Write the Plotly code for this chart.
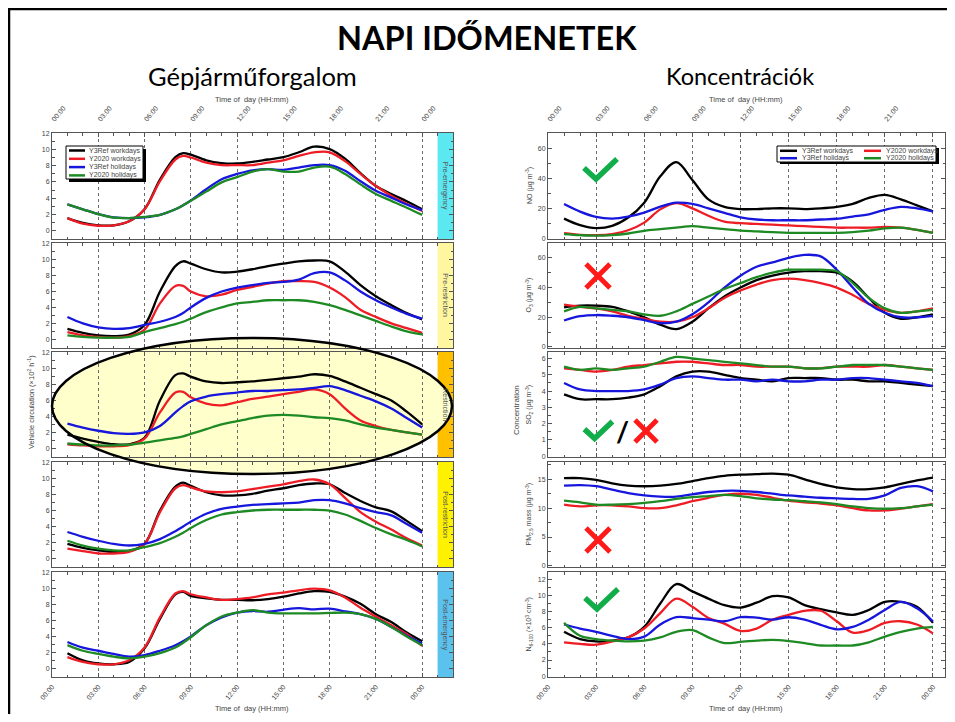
import plotly.graph_objects as go

# figure size chosen so that the figure plus the page's 8 px body margin fits a 955x722 window
PAGE_OFFSET = 8
W, H = 955 - 2 * PAGE_OFFSET, 722 - 2 * PAGE_OFFSET

# ---------------- data ----------------
SERIES = ["Y3Ref workdays", "Y2020 workdays", "Y3Ref holidays", "Y2020 holidays"]
SERIES_COLORS = ["#000000", "#EE1C25", "#1616DC", "#1E8A24"]

TIME_TICKVALS = [0, 3, 6, 9, 12, 15, 18, 21, 24]
TIME_TICKTEXT = ["00:00", "03:00", "06:00", "09:00", "12:00", "15:00", "18:00", "21:00", "00:00"]

HOURS_TRAFFIC = [1, 2, 3, 4, 5, 6, 7, 8, 8.5, 9, 10, 11, 12, 13, 14, 15, 16, 17, 18, 19, 20, 21, 22, 23, 24]
HOURS_CONC = [1, 2, 3, 4, 5, 6, 7, 8, 9, 10, 11, 12, 13, 14, 15, 16, 17, 18, 19, 20, 21, 22, 23, 24]

PHASES = ["Pre-emergency", "Pre-restriction", "Restriction", "Post-restriction", "Post-emergency"]
PHASE_COLORS = ["#5CE8F0", "#FFF7A0", "#FFC000", "#FFF200", "#5BC2EE"]

# Vehicle circulation (x10^2 h^-1)
pre_emergency_y3ref_work = [1.5, 0.9, 0.6, 0.6, 1.1, 2.6, 6.3, 9.1, 9.6, 9.4, 8.7, 8.35, 8.3, 8.5, 8.8, 9.1, 9.7, 10.4, 10.1, 8.9, 7.1, 5.5, 4.5, 3.6, 2.6]
pre_emergency_y2020_work = [1.5, 0.8, 0.55, 0.6, 1.1, 2.6, 6.1, 8.8, 9.25, 9.05, 8.4, 8.1, 8.1, 8.1, 8.4, 8.7, 9.25, 9.7, 9.7, 8.6, 7.0, 5.5, 4.3, 3.3, 2.4]
pre_emergency_y3ref_hol = [3.2, 2.6, 2.0, 1.6, 1.5, 1.6, 1.9, 2.6, 3.1, 3.7, 5.1, 6.35, 7.0, 7.45, 7.6, 7.5, 7.8, 8.1, 8.1, 7.4, 6.1, 4.9, 4.05, 3.2, 2.5]
pre_emergency_y2020_hol = [3.2, 2.6, 2.0, 1.55, 1.5, 1.65, 1.9, 2.6, 3.1, 3.65, 4.8, 5.95, 6.6, 7.3, 7.6, 7.3, 7.3, 7.8, 7.9, 7.0, 5.7, 4.5, 3.65, 2.8, 1.9]

pre_restriction_y3ref_work = [1.3, 0.8, 0.5, 0.4, 0.6, 1.8, 6.0, 9.2, 9.8, 9.5, 8.8, 8.4, 8.5, 8.8, 9.2, 9.5, 9.8, 9.9, 9.8, 8.5, 6.8, 5.4, 4.3, 3.3, 2.5]
pre_restriction_y2020_work = [0.9, 0.5, 0.3, 0.2, 0.4, 1.2, 4.5, 6.7, 6.7, 6.0, 5.4, 5.6, 6.2, 6.6, 7.0, 7.3, 7.3, 7.2, 6.5, 5.3, 3.7, 2.8, 2.0, 1.4, 0.8]
pre_restriction_y3ref_hol = [2.8, 2.0, 1.5, 1.3, 1.4, 1.8, 2.2, 2.8, 3.3, 4.0, 5.2, 6.0, 6.5, 6.8, 7.1, 7.2, 7.5, 8.3, 8.4, 7.4, 6.0, 4.9, 4.0, 3.2, 2.6]
pre_restriction_y2020_hol = [0.5, 0.3, 0.2, 0.2, 0.3, 0.9, 1.4, 1.9, 2.2, 2.6, 3.4, 4.0, 4.5, 4.7, 4.9, 4.9, 4.9, 4.7, 4.3, 3.7, 3.0, 2.3, 1.6, 1.0, 0.6]

restriction_y3ref_work = [1.7, 1.2, 0.8, 0.5, 0.5, 1.3, 6.0, 9.2, 9.4, 9.0, 8.4, 8.2, 8.3, 8.4, 8.6, 8.8, 9.0, 9.3, 9.1, 8.4, 7.6, 6.8, 6.0, 4.6, 3.0]
restriction_y2020_work = [0.5, 0.35, 0.25, 0.25, 0.4, 1.2, 4.5, 7.0, 7.1, 6.4, 5.6, 5.4, 5.8, 6.2, 6.5, 6.8, 7.1, 7.4, 6.8, 5.0, 3.5, 2.8, 2.3, 2.0, 1.7]
restriction_y3ref_hol = [3.1, 2.6, 2.2, 1.9, 1.8, 2.0, 2.8, 4.5, 5.3, 5.9, 6.5, 6.8, 7.0, 7.2, 7.2, 7.3, 7.4, 7.6, 7.8, 7.3, 6.6, 5.9, 5.0, 3.8, 2.6]
restriction_y2020_hol = [0.6, 0.45, 0.35, 0.35, 0.45, 0.7, 1.0, 1.3, 1.5, 1.8, 2.4, 3.0, 3.4, 3.8, 4.1, 4.2, 4.1, 3.9, 3.8, 3.5, 3.0, 2.6, 2.3, 2.0, 1.7]

post_restriction_y3ref_work = [1.8, 1.3, 1.0, 0.8, 0.9, 1.8, 6.0, 9.0, 9.5, 9.1, 8.3, 7.9, 7.9, 8.1, 8.5, 8.8, 9.2, 9.4, 9.3, 8.2, 7.2, 6.4, 5.9, 4.7, 3.4]
post_restriction_y2020_work = [1.2, 0.9, 0.6, 0.6, 0.8, 1.8, 5.8, 8.8, 9.2, 8.9, 8.4, 8.3, 8.4, 8.7, 9.0, 9.3, 9.7, 9.9, 9.3, 7.6, 5.8, 4.6, 3.6, 2.5, 1.6]
post_restriction_y3ref_hol = [3.3, 2.7, 2.2, 1.8, 1.6, 1.8, 2.4, 3.4, 4.0, 4.6, 5.6, 6.2, 6.5, 6.7, 6.8, 6.9, 7.0, 7.3, 7.3, 6.9, 6.3, 5.8, 5.4, 4.3, 3.2]
post_restriction_y2020_hol = [2.2, 1.6, 1.2, 1.0, 1.0, 1.4, 1.9, 2.7, 3.2, 3.8, 4.8, 5.5, 5.8, 6.0, 6.1, 6.1, 6.1, 6.1, 6.0, 5.5, 4.7, 3.8, 3.0, 2.3, 1.5]

post_emergency_y3ref_work = [1.9, 1.0, 0.6, 0.5, 0.8, 2.5, 6.2, 9.3, 9.6, 9.1, 8.8, 8.6, 8.6, 8.55, 8.7, 9.0, 9.4, 9.7, 9.6, 9.0, 8.1, 6.8, 5.8, 4.5, 3.4]
post_emergency_y2020_work = [1.4, 0.8, 0.5, 0.5, 1.0, 2.6, 6.4, 9.4, 9.7, 9.3, 8.9, 8.6, 8.7, 8.9, 9.3, 9.5, 9.8, 10.0, 9.8, 8.9, 7.6, 6.5, 5.4, 4.3, 2.8]
post_emergency_y3ref_hol = [3.3, 2.6, 2.2, 1.8, 1.45, 1.65, 2.2, 2.9, 3.4, 4.0, 5.4, 6.4, 7.0, 7.2, 7.1, 7.35, 7.55, 7.4, 7.5, 7.15, 6.8, 6.2, 5.2, 4.1, 3.1]
post_emergency_y2020_hol = [2.9, 2.2, 1.8, 1.45, 1.25, 1.45, 1.9, 2.6, 3.2, 3.9, 5.4, 6.5, 7.0, 7.3, 7.0, 6.9, 6.9, 6.9, 6.95, 7.0, 6.8, 6.2, 5.2, 4.0, 2.9]

# Concentrations
no_y3ref_work = [13.1, 8.7, 6.7, 8.2, 13.8, 23.8, 41.5, 51.0, 39.0, 26.0, 21.0, 19.5, 19.5, 20.0, 20.0, 19.5, 20.0, 21.0, 23.0, 27.0, 29.0, 26.0, 22.0, 18.0]
no_y2020_work = [3.3, 2.2, 2.0, 2.7, 5.3, 10.4, 19.3, 23.5, 20.0, 15.0, 11.0, 10.0, 9.5, 9.0, 8.5, 8.0, 7.5, 7.0, 7.0, 7.0, 7.5, 7.0, 5.5, 3.5]
no_y3ref_hol = [22.9, 17.8, 14.2, 13.1, 14.4, 17.1, 21.1, 23.8, 23.0, 20.0, 17.0, 14.0, 12.5, 12.0, 12.0, 12.0, 12.5, 13.0, 14.5, 16.0, 19.0, 21.0, 20.0, 18.0]
no_y2020_hol = [2.7, 2.0, 1.6, 2.0, 3.1, 4.9, 6.0, 7.1, 8.0, 7.0, 6.0, 5.0, 4.5, 4.0, 3.5, 3.5, 3.5, 3.5, 4.0, 5.0, 6.5, 7.0, 5.5, 3.5]

o3_y3ref_work = [26.7, 27.8, 27.8, 27.0, 24.0, 20.0, 15.0, 12.0, 17.0, 26.0, 34.0, 40.0, 45.0, 48.0, 50.0, 51.0, 51.0, 50.0, 44.0, 33.0, 23.0, 19.0, 20.0, 22.0]
o3_y2020_work = [28.5, 27.0, 26.0, 24.0, 21.0, 19.0, 17.0, 17.0, 20.0, 26.0, 33.0, 38.0, 42.0, 45.0, 46.0, 45.0, 43.0, 40.0, 35.0, 29.0, 25.0, 23.0, 24.0, 26.0]
o3_y3ref_hol = [17.8, 20.7, 21.5, 21.0, 20.0, 18.0, 16.0, 17.0, 22.0, 30.0, 40.0, 48.0, 54.0, 57.0, 60.0, 62.0, 61.0, 52.0, 40.0, 29.0, 23.0, 20.0, 20.0, 21.0]
o3_y2020_hol = [24.0, 27.0, 26.0, 25.0, 24.0, 22.0, 21.0, 24.0, 29.0, 34.0, 39.0, 43.0, 47.0, 50.0, 52.0, 52.0, 52.0, 51.0, 43.0, 33.0, 26.0, 23.0, 24.0, 25.0]

so2_y3ref_work = [3.8, 3.5, 3.5, 3.5, 3.6, 3.8, 4.3, 4.9, 5.2, 5.2, 5.0, 4.8, 4.7, 4.6, 4.8, 4.8, 4.8, 4.7, 4.7, 4.6, 4.6, 4.5, 4.4, 4.3]
so2_y2020_work = [5.4, 5.3, 5.2, 5.3, 5.5, 5.6, 5.7, 5.8, 5.8, 5.7, 5.6, 5.6, 5.5, 5.5, 5.5, 5.4, 5.4, 5.5, 5.5, 5.5, 5.6, 5.5, 5.4, 5.3]
so2_y3ref_hol = [4.5, 4.1, 4.0, 4.0, 4.0, 4.1, 4.4, 4.8, 4.9, 4.8, 4.7, 4.7, 4.6, 4.7, 4.6, 4.6, 4.7, 4.7, 4.8, 4.8, 4.7, 4.6, 4.5, 4.3]
so2_y2020_hol = [5.5, 5.3, 5.4, 5.3, 5.4, 5.5, 5.8, 6.1, 6.0, 5.9, 5.8, 5.7, 5.6, 5.5, 5.5, 5.4, 5.4, 5.5, 5.6, 5.6, 5.6, 5.5, 5.4, 5.3]

pm_y3ref_work = [15.2, 15.2, 14.9, 14.3, 13.9, 13.8, 13.9, 14.2, 14.7, 15.2, 15.6, 15.8, 15.9, 16.0, 15.8, 15.0, 14.2, 13.6, 13.3, 13.3, 13.6, 14.2, 14.8, 15.3]
pm_y2020_work = [10.6, 10.3, 10.5, 10.5, 10.3, 10.0, 10.0, 10.5, 11.2, 11.8, 12.3, 12.5, 12.3, 11.8, 11.3, 11.0, 10.8, 10.5, 10.0, 9.6, 9.6, 9.9, 10.3, 10.7]
pm_y3ref_hol = [13.9, 14.0, 13.8, 13.2, 12.6, 12.2, 12.0, 12.0, 12.4, 12.8, 13.0, 13.0, 12.8, 12.5, 12.2, 12.0, 11.8, 11.7, 11.6, 11.6, 12.2, 13.5, 13.8, 12.9]
pm_y2020_hol = [11.3, 11.0, 10.6, 10.6, 10.7, 10.9, 11.2, 11.6, 11.9, 12.1, 12.3, 12.1, 11.7, 11.5, 11.4, 11.2, 11.0, 10.7, 10.3, 10.0, 9.9, 10.0, 10.3, 10.6]

n_y3ref_work = [5.5, 4.6, 4.3, 4.4, 4.8, 6.1, 9.0, 11.4, 10.5, 9.6, 8.8, 8.5, 9.1, 9.9, 9.75, 8.8, 8.3, 7.9, 7.6, 8.2, 9.2, 9.2, 8.6, 6.6]
n_y2020_work = [4.2, 4.0, 3.9, 4.3, 4.8, 5.9, 7.8, 9.6, 8.6, 7.2, 6.5, 5.6, 5.9, 7.0, 7.6, 8.1, 8.1, 6.8, 5.4, 5.7, 6.6, 6.8, 6.4, 5.3]
n_y3ref_hol = [6.4, 5.9, 5.5, 5.0, 4.6, 4.9, 6.4, 7.3, 7.2, 7.0, 6.8, 7.3, 7.25, 7.0, 7.3, 7.0, 6.35, 5.8, 6.1, 7.0, 8.2, 9.2, 8.4, 6.8]
n_y2020_hol = [6.6, 5.0, 4.6, 4.4, 4.3, 4.4, 4.8, 5.5, 5.7, 4.8, 4.1, 4.25, 4.4, 4.5, 4.35, 4.1, 3.8, 3.8, 3.8, 4.2, 4.9, 5.5, 5.9, 6.1]

CONC_LABELS = ["NO (μg m<sup>-3</sup>)", "O<sub>3</sub> (μg m<sup>-3</sup>)", "SO<sub>2</sub> (μg m<sup>-3</sup>)",
               "PM<sub>2.5</sub> mass (μg m<sup>-3</sup>)", "N<sub>6-100</sub> (×10<sup>3</sup> cm<sup>-3</sup>)"]
CONC_TICKVALS = [[0, 20, 40, 60], [0, 20, 40, 60], [0, 1, 2, 3, 4, 5, 6], [0, 5, 10, 15], [0, 2, 4, 6, 8, 10, 12]]
TRAFFIC_TICKVALS = [0, 2, 4, 6, 8, 10, 12]

TRAFFIC = [
    [pre_emergency_y3ref_work, pre_emergency_y2020_work, pre_emergency_y3ref_hol, pre_emergency_y2020_hol],
    [pre_restriction_y3ref_work, pre_restriction_y2020_work, pre_restriction_y3ref_hol, pre_restriction_y2020_hol],
    [restriction_y3ref_work, restriction_y2020_work, restriction_y3ref_hol, restriction_y2020_hol],
    [post_restriction_y3ref_work, post_restriction_y2020_work, post_restriction_y3ref_hol, post_restriction_y2020_hol],
    [post_emergency_y3ref_work, post_emergency_y2020_work, post_emergency_y3ref_hol, post_emergency_y2020_hol],
]
CONC = [
    [no_y3ref_work, no_y2020_work, no_y3ref_hol, no_y2020_hol],
    [o3_y3ref_work, o3_y2020_work, o3_y3ref_hol, o3_y2020_hol],
    [so2_y3ref_work, so2_y2020_work, so2_y3ref_hol, so2_y2020_hol],
    [pm_y3ref_work, pm_y2020_work, pm_y3ref_hol, pm_y2020_hol],
    [n_y3ref_work, n_y2020_work, n_y3ref_hol, n_y2020_hol],
]

# ---------------- layout geometry (screen pixels) ----------------
ROWS = [(133, 239), (243, 348), (352, 457), (462, 567), (572, 677)]
LEFT_X = (52, 453)
RIGHT_X = (548, 945)
TRAFFIC_RANGE = [-1.1, 12.1]
CONC_RANGES = [[-0.6, 70.6], [-0.7, 70.0], [-0.05, 6.4], [-0.2, 18.0], [-0.1, 12.9]]
CONC_MINOR = [10, 10, 0.5, 2.5, 1]


def px(x):
    return (x - PAGE_OFFSET) / W


def py(y):
    return 1 - (y - PAGE_OFFSET) / H


AX = "#555555"
SANS = "Liberation Sans, Arial"
TICKFONT = dict(family=SANS, size=7, color="#444444")

fig = go.Figure()
layout = {}
shapes = []
annotations = []


def ann(text, x, y, size, color="black", family="Lato", angle=0):
    annotations.append(dict(text=text, xref="paper", yref="paper", x=px(x), y=py(y), showarrow=False,
                            xanchor="center", yanchor="middle", textangle=angle,
                            font=dict(family=family, size=size, color=color)))


for col in range(2):
    for r in range(5):
        k = col * 5 + r + 1
        xa = "x" if k == 1 else f"x{k}"
        ya = "y" if k == 1 else f"y{k}"
        xkey = "xaxis" if k == 1 else f"xaxis{k}"
        ykey = "yaxis" if k == 1 else f"yaxis{k}"
        xdom = LEFT_X if col == 0 else RIGHT_X
        top, bot = ROWS[r]
        show_lbl = r in (0, 4)
        layout[xkey] = dict(
            domain=[px(xdom[0]), min(px(xdom[1]), 1.0)], automargin=False,
            range=[0, 26] if col == 0 else [0, 24.75],
            anchor=ya, side="top" if r == 0 else "bottom",
            tickmode="array", tickvals=TIME_TICKVALS, ticktext=TIME_TICKTEXT,
            showticklabels=show_lbl, tickangle=-50, tickfont=TICKFONT,
            ticklabelstandoff=6 if r == 0 else 2,
            showgrid=True, griddash="3px,3px", gridcolor="#6a6a6a", gridwidth=0.8,
            showline=True, linecolor=AX, linewidth=1, mirror="allticks",
            ticks="inside", ticklen=4, tickcolor=AX, zeroline=False,
            minor=dict(tickmode="linear", tick0=0, dtick=1, ticks="inside", ticklen=2.5,
                       tickcolor=AX, showgrid=False),
        )
        if col == 0:
            yr, tv, mdt = TRAFFIC_RANGE, TRAFFIC_TICKVALS, 1
        else:
            yr, tv, mdt = CONC_RANGES[r], CONC_TICKVALS[r], CONC_MINOR[r]
        layout[ykey] = dict(
            domain=[py(bot), py(top)], range=yr, anchor=xa, automargin=False,
            tickmode="array", tickvals=tv, tickfont=TICKFONT,
            showgrid=False, zeroline=False, showline=True, linecolor=AX, linewidth=1,
            mirror="allticks", ticks="inside", ticklen=4, tickcolor=AX,
            minor=dict(tickmode="linear", tick0=0, dtick=mdt, ticks="inside", ticklen=2.5,
                       tickcolor=AX, showgrid=False),
        )
        data = TRAFFIC[r] if col == 0 else CONC[r]
        hours = HOURS_TRAFFIC if col == 0 else HOURS_CONC
        for s in range(4):
            fig.add_trace(go.Scatter(
                x=hours, y=data[s], mode="lines", name=SERIES[s], showlegend=False,
                line=dict(color=SERIES_COLORS[s], width=2.3, shape="spline", smoothing=1.0),
                xaxis=xa, yaxis=ya, hoverinfo="skip"))
        if col == 0:
            shapes.append(dict(type="rect", xref=xa, yref=f"{ya} domain", x0=25, x1=26, y0=0, y1=1,
                               fillcolor=PHASE_COLORS[r], line=dict(width=0), layer="below"))
            annotations.append(dict(text=PHASES[r], xref=xa, yref=f"{ya} domain", x=25.5, y=0.5,
                                    xanchor="center", yanchor="middle",
                                    textangle=90, showarrow=False,
                                    font=dict(family=SANS, size=7, color="#555555")))
        else:
            ann(CONC_LABELS[r], 529, (top + bot) / 2, 7, "#444444", SANS, -90)

# ellipse highlight on the restriction panel
shapes.append(dict(type="circle", xref="paper", yref="paper", x0=px(52), x1=px(452), y0=py(474), y1=py(338),
                   fillcolor="#FFFFCC", line=dict(width=0), layer="below"))
shapes.append(dict(type="circle", xref="paper", yref="paper", x0=px(52), x1=px(452), y0=py(474), y1=py(338),
                   fillcolor="rgba(0,0,0,0)", line=dict(color="black", width=2.5), layer="above"))

# slide frame (left and top edges)
shapes.append(dict(type="line", xref="paper", yref="paper", x0=px(9), x1=px(9), y0=0, y1=py(8),
                   line=dict(color="black", width=2.5), layer="above"))
shapes.append(dict(type="line", xref="paper", yref="paper", x0=px(8), x1=1, y0=py(9), y1=py(9),
                   line=dict(color="black", width=2.5), layer="above"))

# ---- manual legends ----
LEGFONT = dict(family=SANS, size=7, color="#444444")
shapes.append(dict(type="rect", xref="paper", yref="paper", x0=px(69), x1=px(146), y0=py(182), y1=py(149),
                   fillcolor="black", line=dict(width=0), layer="above"))
shapes.append(dict(type="rect", xref="paper", yref="paper", x0=px(66), x1=px(143), y0=py(179), y1=py(146),
                   fillcolor="white", line=dict(color="black", width=1), layer="above"))
for s in range(4):
    yy = 150.5 + s * 8.3
    shapes.append(dict(type="line", xref="paper", yref="paper", x0=px(69), x1=px(85), y0=py(yy), y1=py(yy),
                       line=dict(color=SERIES_COLORS[s], width=2.5), layer="above"))
    annotations.append(dict(text=SERIES[s], xref="paper", yref="paper", x=px(87), y=py(yy), xanchor="left",
                            yanchor="middle", showarrow=False, font=LEGFONT))
shapes.append(dict(type="rect", xref="paper", yref="paper", x0=px(780), x1=px(939), y0=py(164), y1=py(148),
                   fillcolor="black", line=dict(width=0), layer="above"))
shapes.append(dict(type="rect", xref="paper", yref="paper", x0=px(777), x1=px(936), y0=py(162), y1=py(146),
                   fillcolor="white", line=dict(color="black", width=1), layer="above"))
for s in range(4):
    c = 0 if s in (0, 2) else 1
    rr = 0 if s in (0, 1) else 1
    yy = 150.8 + rr * 7.4
    x0 = 780 if c == 0 else 864
    shapes.append(dict(type="line", xref="paper", yref="paper", x0=px(x0), x1=px(x0 + 17), y0=py(yy), y1=py(yy),
                       line=dict(color=SERIES_COLORS[s], width=2.5), layer="above"))
    annotations.append(dict(text=SERIES[s], xref="paper", yref="paper", x=px(x0 + 20), y=py(yy), xanchor="left",
                            yanchor="middle", showarrow=False, font=LEGFONT))

# ---- titles and labels ----
ann("<b>NAPI IDŐMENETEK</b>", 487, 38, 32.5)
ann("Gépjárműforgalom", 252, 76, 25.5)
ann("Koncentrációk", 740, 76, 23.5)
for cx in (252, 746):
    ann("Time of  day (HH:mm)", cx, 99, 7.5, "#444444", SANS)
    ann("Time of  day (HH:mm)", cx, 708, 7.5, "#444444", SANS)
ann("Vehicle circulation (×10<sup>2</sup> h<sup>-1</sup>)", 31, 402, 7.5, "#444444", SANS, -90)
ann("Concentration", 517, 410, 8, "#444444", SANS, -90)

# ---- verdict marks (check = agreement, cross = disagreement) ----
GREEN = "#12AD4B"
RED = "#FF1A1A"


def check(x, y, s=1.0):
    shapes.append(dict(type="path", xref="paper", yref="paper", layer="above",
                       path=f"M {px(x - 16 * s)},{py(y - 1 * s)} L {px(x - 4 * s)},{py(y + 10 * s)} "
                            f"L {px(x + 17 * s)},{py(y - 10 * s)}",
                       line=dict(color=GREEN, width=5.5), fillcolor="rgba(0,0,0,0)"))


def cross(x, y, h=12):
    shapes.append(dict(type="line", xref="paper", yref="paper", layer="above",
                       x0=px(x - h), y0=py(y - h), x1=px(x + h), y1=py(y + h), line=dict(color=RED, width=5)))
    shapes.append(dict(type="line", xref="paper", yref="paper", layer="above",
                       x0=px(x - h), y0=py(y + h), x1=px(x + h), y1=py(y - h), line=dict(color=RED, width=5)))


check(600, 169)
cross(598, 276, 12)
check(598, 430, 0.85)
ann("<b>/</b>", 622, 431, 28, "black", "Lato")
cross(646, 431, 11)
cross(598, 540, 12)
check(601, 599)

fig.update_layout(
    width=W, height=H, margin=dict(l=0, r=0, t=0, b=0, autoexpand=False),
    paper_bgcolor="white", plot_bgcolor="rgba(0,0,0,0)",
    showlegend=False, shapes=shapes, annotations=annotations, **layout,
)

fig.write_html("out.html")
